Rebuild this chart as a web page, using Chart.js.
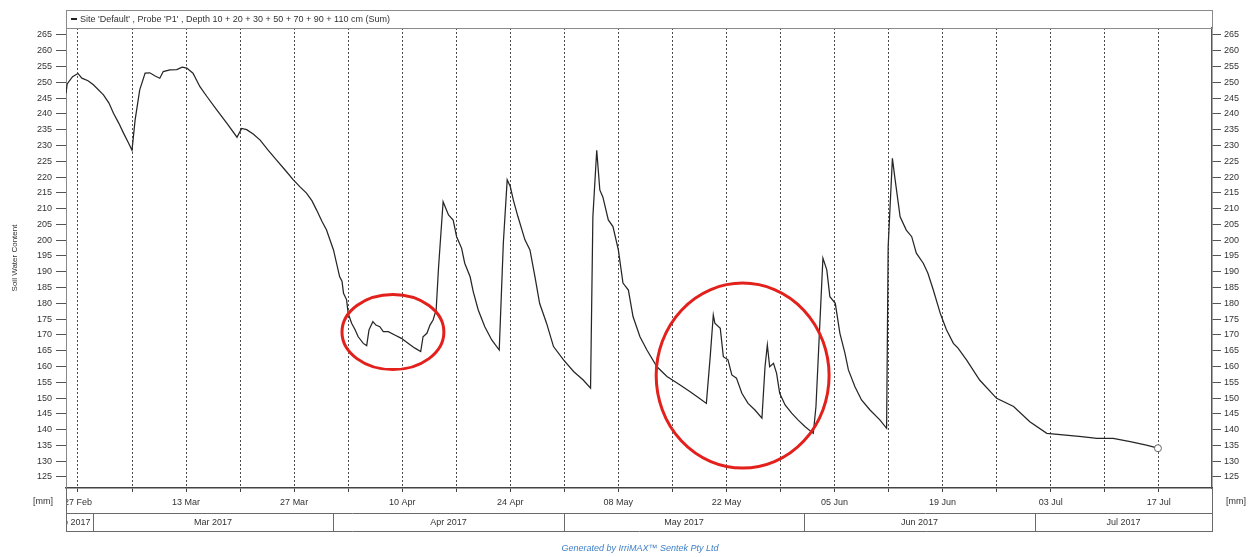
<!DOCTYPE html>
<html>
<head>
<meta charset="utf-8">
<script src="https://cdn.jsdelivr.net/npm/chart.js@4/dist/chart.umd.min.js"></script>
<style>
  html, body { margin: 0; padding: 0; background: #ffffff; }
  #wrap { width: 1254px; height: 557px; position: relative; }
</style>
</head>
<body>
<div id="wrap"><canvas id="chart" width="1254" height="557"></canvas></div>
<script>
// Reading times as day of year 2017 (1 Jan = 1)
const readingDays = [
  56.45, 56.6, 57.3, 58.0, 58.5, 59.3, 60.0, 61.3, 62.0, 62.6, 63.3, 63.9, 64.5, 65.0,
  65.4, 66.0, 66.7, 67.3, 68.0, 68.6, 69.05, 69.9, 70.8, 71.5, 72.1, 72.9, 73.8, 74.7,
  76.0, 77.3, 78.6, 79.2, 79.85, 80.7, 81.6, 82.6, 83.7, 84.8, 85.9, 86.8, 87.6, 88.3,
  88.9, 89.6, 90.2, 91.1, 91.9, 92.2, 92.4, 92.8, 93.0, 93.45, 93.9, 94.3, 94.96, 95.4,
  95.7, 96.2, 96.6, 97.1, 97.55, 98.2, 99.1, 99.9, 100.8, 101.65, 102.4, 102.7, 103.2,
  103.6, 104.0, 104.4, 104.7, 105.3, 106.0, 106.6, 107.05, 107.7, 108.1, 108.8, 109.2,
  109.85, 110.7, 111.6, 112.57, 113.1, 113.6, 114.0, 114.4, 115.0, 115.9, 116.55, 117.2,
  117.8, 118.7, 119.6, 120.9, 122.2, 123.45, 124.4, 124.7, 125.2, 125.6, 126.0, 126.7,
  127.3, 128.0, 128.6, 129.3, 129.9, 130.8, 131.7, 133.0, 134.3, 136.0, 137.3, 138.4,
  139.4, 139.9, 140.3, 140.5, 141.2, 141.6, 142.2, 142.7, 143.3, 144.0, 144.8, 145.7,
  146.6, 147.0, 147.3, 147.6, 148.1, 148.5, 148.9, 149.6, 150.45, 151.3, 152.2, 153.25,
  153.6, 153.9, 154.5, 155.0, 155.4, 156.1, 156.7, 157.35, 157.8, 158.65, 159.5, 160.6,
  161.9, 162.75, 162.95, 163.5, 163.8, 164.5, 165.3, 166.0, 166.6, 167.5, 168.1, 168.8,
  169.7, 170.5, 171.4, 172.0, 173.1, 174.8, 177.0, 179.2, 181.3, 183.5, 185.6, 188.0,
  190.0, 192.1, 194.3, 196.4, 197.9
];

// Summed soil water content, 10-110 cm [mm]
const soilWater = [
  246.5, 249.5, 251.8, 252.8, 251.3, 250.5, 249.2, 246.0, 243.5, 240.2, 237.0, 233.9, 231.0, 228.5,
  238.0, 247.6, 252.9, 253.0, 252.0, 251.3, 253.4, 253.9, 254.0, 254.8, 254.5, 252.9, 248.6, 245.5,
  241.2, 237.0, 232.6, 235.4, 235.0, 233.6, 231.7, 228.6, 225.4, 222.3, 219.1, 216.8, 214.9, 212.5,
  209.6, 206.0, 203.2, 196.9, 188.4, 187.0, 183.2, 181.1, 176.8, 173.7, 171.6, 169.4, 167.3, 166.6,
  171.6, 174.2, 173.1, 172.6, 171.0, 171.0, 169.9, 168.9, 167.3, 165.8, 164.7, 169.4, 170.5,
  173.1, 174.7, 177.9, 191.0, 212.2, 208.0, 206.4, 201.1, 197.4, 192.7, 188.4, 183.7,
  177.9, 172.6, 168.4, 165.2, 199.0, 219.1, 217.0, 212.7, 207.4, 200.1, 196.9, 188.4,
  180.0, 173.7, 166.3, 162.1, 158.4, 155.7, 153.1, 207.4, 228.5, 215.9, 213.6, 206.4,
  204.3, 196.9, 186.4, 184.2, 175.8, 169.4, 165.2, 159.9, 156.8, 154.1, 152.0, 150.1,
  148.3, 163.1, 176.3, 173.7, 172.1, 163.1, 162.1, 157.3, 156.3, 151.5, 148.3, 146.2,
  143.6, 159.9, 166.8, 159.9, 161.0, 157.8, 151.5, 147.8, 145.2, 143.0, 140.9, 138.8,
  147.3, 163.1, 194.3, 190.6, 182.1, 180.0, 170.5, 164.2, 158.9, 153.6, 149.4, 146.2,
  143.0, 140.4, 197.9, 225.9, 220.1, 207.4, 203.2, 201.1, 195.9, 192.7, 189.5, 184.2,
  176.8, 171.6, 167.3, 165.8, 162.1, 155.7, 149.9, 147.3, 142.5, 138.8, 138.3, 137.8,
  137.2, 137.2, 136.2, 135.1, 134.1
];

// Weekly grid lines (Mondays) and the fortnightly date labels
const weekDays = [58, 65, 72, 79, 86, 93, 100, 107, 114, 121, 128, 135, 142, 149, 156, 163, 170, 177, 184, 191, 198];
const labelDays = [58, 72, 86, 100, 114, 128, 142, 156, 170, 184, 198];
const dateLabels = ['27 Feb', '13 Mar', '27 Mar', '10 Apr', '24 Apr', '08 May', '22 May', '05 Jun', '19 Jun', '03 Jul', '17 Jul'];

// Month band along the bottom
const monthStarts = [32, 60, 91, 121, 152, 182, 213];
const monthLabels = ['Feb 2017', 'Mar 2017', 'Apr 2017', 'May 2017', 'Jun 2017', 'Jul 2017'];

// Value axis ticks [mm]
const yTicks = [125, 130, 135, 140, 145, 150, 155, 160, 165, 170, 175, 180, 185, 190, 195, 200,
  205, 210, 215, 220, 225, 230, 235, 240, 245, 250, 255, 260, 265];

const seriesName = "Site 'Default' , Probe 'P1' , Depth 10 + 20 + 30 + 50 + 70 + 90 + 110 cm (Sum)";
const footerText = 'Generated by IrriMAX\u2122 Sentek Pty Ltd';
const unitText = '[mm]';

// Red rings marking the two periods of interest (centre day, centre mm, half-width days, half-height mm)
const highlights = [
  { day: 98.8, mm: 170.9, rDays: 6.6, rMm: 11.9 },
  { day: 144.1, mm: 157.1, rDays: 11.2, rMm: 29.3 }
];

const FONT = '"Liberation Sans", Arial, sans-serif';
const TEXT = '#333333';
const X_MIN = 56.45, X_MAX = 204.9, Y_MIN = 121.5, Y_MAX = 267.2;

// Keeps the date labels inside the frame of the date row
const labelClip = {
  id: 'labelClip',
  beforeDraw(chart) {
    const { ctx, chartArea, width, height } = chart;
    ctx.save();
    ctx.beginPath();
    ctx.rect(0, 0, width, chartArea.bottom + 2);
    ctx.rect(chartArea.left + 1, chartArea.bottom + 2, width - chartArea.left - 1, height - chartArea.bottom - 2);
    ctx.clip();
  },
  beforeDatasetsDraw(chart) {
    chart.ctx.restore();
  }
};

const frameParts = {
  id: 'frameParts',
  afterDatasetsDraw(chart) {
    const { ctx } = chart;
    const xs = chart.scales.x, ys = chart.scales.y;
    ctx.save();
    ctx.strokeStyle = '#e3211c';
    ctx.lineWidth = 3;
    highlights.forEach(h => {
      const cx = xs.getPixelForValue(h.day);
      const cy = ys.getPixelForValue(h.mm);
      const rx = Math.abs(xs.getPixelForValue(h.day + h.rDays) - cx);
      const ry = Math.abs(ys.getPixelForValue(h.mm + h.rMm) - cy);
      ctx.beginPath();
      ctx.ellipse(cx, cy, rx, ry, 0, 0, Math.PI * 2);
      ctx.stroke();
    });
    ctx.restore();
  },
  afterDraw(chart) {
    const { ctx, chartArea } = chart;
    const L = chartArea.left, R = chartArea.right, T = chartArea.top, B = chartArea.bottom;
    const xs = chart.scales.x;
    const rowTop = B + 25, rowBottom = B + 43;
    ctx.save();

    // series header box
    ctx.strokeStyle = '#8a8a8a';
    ctx.lineWidth = 1;
    ctx.strokeRect(L + 0.5, 10.5, R - L, T - 10);
    ctx.fillStyle = '#222';
    ctx.fillRect(L + 5, 18, 6, 2);
    ctx.font = '9px ' + FONT;
    ctx.fillStyle = TEXT;
    ctx.textBaseline = 'middle';
    ctx.textAlign = 'left';
    ctx.fillText(seriesName, L + 14, 19.5);

    // outer frame of the date rows
    ctx.strokeStyle = '#6a6a6a';
    ctx.beginPath();
    ctx.moveTo(L + 0.5, B); ctx.lineTo(L + 0.5, rowBottom);
    ctx.moveTo(R + 0.5, B); ctx.lineTo(R + 0.5, rowBottom);
    ctx.moveTo(L, rowTop + 0.5); ctx.lineTo(R, rowTop + 0.5);
    ctx.moveTo(L, rowBottom + 0.5); ctx.lineTo(R + 1, rowBottom + 0.5);
    ctx.stroke();

    // month band
    ctx.font = '9px ' + FONT;
    ctx.fillStyle = TEXT;
    for (let i = 0; i < monthLabels.length; i++) {
      const a = Math.max(L, xs.getPixelForValue(monthStarts[i]));
      const b = Math.min(R, xs.getPixelForValue(monthStarts[i + 1]));
      if (b <= a) continue;
      if (b < R) {
        ctx.beginPath();
        ctx.moveTo(Math.round(b) + 0.5, rowTop);
        ctx.lineTo(Math.round(b) + 0.5, rowBottom);
        ctx.stroke();
      }
      ctx.save();
      ctx.beginPath();
      ctx.rect(a + 1, rowTop, b - a - 2, rowBottom - rowTop);
      ctx.clip();
      const w = ctx.measureText(monthLabels[i]).width;
      if (w > b - a - 6) {
        ctx.textAlign = 'right';
        ctx.fillText(monthLabels[i], b - 3, rowTop + 10);
      } else {
        ctx.textAlign = 'center';
        ctx.fillText(monthLabels[i], (a + b) / 2, rowTop + 10);
      }
      ctx.restore();
    }

    // unit labels beside the date row
    ctx.textAlign = 'center';
    ctx.fillText(unitText, 43, B + 14);
    ctx.fillText(unitText, 1236, B + 14);

    // footer
    ctx.font = 'italic 9px ' + FONT;
    ctx.fillStyle = '#3d7fc6';
    ctx.fillText(footerText, 640, 548);
    ctx.restore();
  }
};

const tickFont = { family: FONT, size: 9 };

new Chart(document.getElementById('chart'), {
  type: 'line',
  data: {
    datasets: [{
      data: readingDays.map((d, i) => ({ x: d, y: soilWater[i] })),
      borderColor: '#262626',
      borderWidth: 1.25,
      tension: 0,
      fill: false,
      pointRadius: c => (c.dataIndex === soilWater.length - 1 ? 3.5 : 0),
      pointBackgroundColor: '#ffffff',
      pointBorderColor: '#666666',
      pointBorderWidth: 1,
      yAxisID: 'y'
    }]
  },
  options: {
    responsive: false,
    animation: false,
    events: [],
    layout: { padding: { top: 28, left: 0, right: 0, bottom: 0 } },
    plugins: { legend: { display: false }, tooltip: { enabled: false }, title: { display: false } },
    scales: {
      x: {
        type: 'linear',
        min: X_MIN,
        max: X_MAX,
        afterBuildTicks: s => { s.ticks = weekDays.map(v => ({ value: v })); },
        afterFit: s => { s.height = 69; },
        ticks: {
          autoSkip: false,
          maxRotation: 0,
          minRotation: 0,
          padding: 5,
          color: TEXT,
          font: tickFont,
          callback: v => { const i = labelDays.indexOf(v); return i >= 0 ? dateLabels[i] : ''; }
        },
        grid: { color: '#4d4d4d', lineWidth: 1, tickLength: 4, tickColor: '#444', drawOnChartArea: true },
        border: { display: true, color: '#444', width: 1.5, dash: [2, 2] }
      },
      y: {
        position: 'left',
        min: Y_MIN,
        max: Y_MAX,
        afterBuildTicks: s => { s.ticks = yTicks.map(v => ({ value: v })); },
        afterFit: s => { s.width = 66; },
        ticks: { color: TEXT, font: tickFont, padding: 4 },
        grid: { drawOnChartArea: false, drawTicks: true, tickLength: 10, tickColor: '#555' },
        border: { display: true, color: '#888', width: 1 },
        title: { display: true, text: 'Soil Water Content', color: TEXT, font: { family: FONT, size: 8 }, padding: { top: 10, bottom: 0 } }
      },
      y2: {
        position: 'right',
        display: true,
        min: Y_MIN,
        max: Y_MAX,
        afterBuildTicks: s => { s.ticks = yTicks.map(v => ({ value: v })); },
        afterFit: s => { s.width = 42; },
        ticks: { color: TEXT, font: tickFont, padding: 3 },
        grid: { drawOnChartArea: false, drawTicks: true, tickLength: 9, tickColor: '#555' },
        border: { display: true, color: '#555', width: 1.5 }
      }
    }
  },
  plugins: [labelClip, frameParts]
});
</script>
</body>
</html>
